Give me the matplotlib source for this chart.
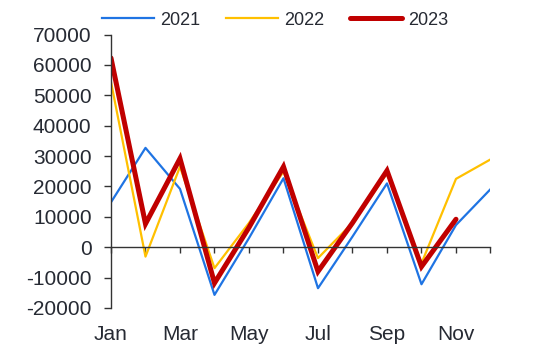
import matplotlib.pyplot as plt

plt.rcParams['font.family'] = ['Liberation Sans', 'DejaVu Sans']

months = ['Jan', 'Feb', 'Mar', 'Apr', 'May', 'Jun',
          'Jul', 'Aug', 'Sep', 'Oct', 'Nov', 'Dec']
y2021 = [14800, 32700, 19200, -15700, 3000, 22700,
         -13500, 3500, 21000, -12200, 7300, 19100]
y2022 = [54400, -3100, 26500, -6900, 8000, 24900,
         -3600, 8000, 24300, -5300, 22500, 28900]
y2023 = [62300, 7700, 29200, -11800, 6500, 26500,
         -8000, 8000, 25200, -6400, 9200]
yticks = list(range(-20000, 70001, 10000))

txt = '#262a33'
fig = plt.figure(figsize=(5.5, 3.46), dpi=100)
ax = fig.add_axes([0.2018, 0.110, 0.690, 0.790])

x = list(range(len(months)))
ax.plot(x, y2021, color='#1f74e3', lw=1.6, label='2021')
ax.plot(x, y2022, color='#ffc000', lw=1.6, label='2022')
ax.plot(x[:len(y2023)], y2023, color='#c00000', lw=3.6, label='2023',
        solid_capstyle='round', solid_joinstyle='miter')

ax.set_xlim(0, 11)
ax.set_ylim(-20000, 70000)
ax.set_yticks(yticks)
ax.set_yticklabels([str(v) for v in yticks])

# horizontal axis sits on zero, labels stay below the plot
for s in ['top', 'right']:
    ax.spines[s].set_visible(False)
ax.spines['bottom'].set_position(('data', 0))
for s in ['bottom', 'left']:
    ax.spines[s].set_color('#333333')
    ax.spines[s].set_linewidth(1.0)
ax.set_xticks(x)
ax.tick_params(axis='x', direction='out', length=4.5, width=1.0,
               color='#333333', labelbottom=False)
ax.tick_params(axis='y', direction='out', length=5, width=1.0,
               color='#333333', labelsize=15, labelcolor=txt, pad=9)

sec = ax.secondary_xaxis('bottom')
sec.set_xticks(x[::2])
sec.set_xticklabels(months[::2])
sec.spines['bottom'].set_visible(False)
sec.tick_params(length=0, labelsize=15, labelcolor=txt, pad=12)

fig.legend(loc='center', bbox_to_anchor=(0.5, 0.942), ncol=3, frameon=False,
           fontsize=13, labelcolor=txt, handlelength=2.9, handletextpad=0.35,
           columnspacing=1.4)

fig.savefig('out.png', dpi=100)
